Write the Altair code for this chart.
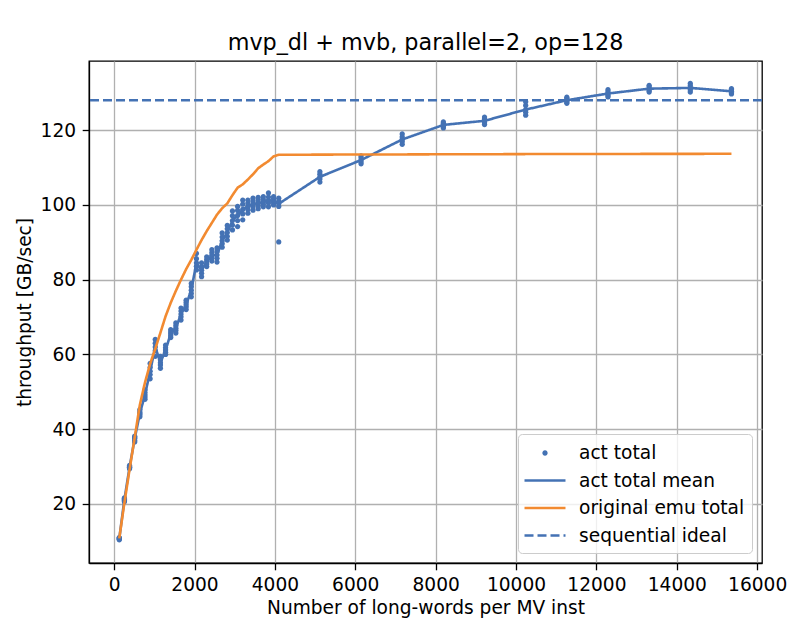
import altair as alt
import pandas as pd

TITLE = "mvp_dl + mvb, parallel=2, op=128"
X_TITLE = "Number of long-words per MV inst"
Y_TITLE = "throughput [GB/sec]"
SERIES = ["act total", "act total mean", "original emu total", "sequential ideal"]

BLUE = "#4472b4"
ORANGE = "#f28a30"

X_VALUES = [128, 256, 384, 512, 640, 768, 896, 1024, 1152, 1280, 1408, 1536,
            1664, 1792, 1920, 2048, 2176, 2304, 2432, 2560, 2688, 2816, 2944,
            3072, 3200, 3328, 3456, 3584, 3712, 3840, 3968, 4096,
            5120, 6144, 7168, 8192, 9216, 10240, 11264, 12288, 13312, 14336, 15360]

ACT_POINTS = [
    [10.4, 10.6, 10.7, 10.9, 11.0],
    [20.6, 20.9, 21.2, 21.4, 21.6],
    [29.4, 29.7, 29.8, 30.0, 30.3],
    [36.6, 37.0, 37.5, 37.8, 38.1],
    [43.3, 43.8, 44.2, 44.6, 45.2],
    [48.0, 48.6, 49.2, 49.8, 50.5],
    [53.5, 54.6, 55.5, 56.5, 57.6],
    [59.5, 61.0, 62.0, 63.0, 64.0],
    [56.3, 57.2, 57.8, 58.6, 59.5],
    [60.0, 60.6, 61.2, 61.8, 62.5],
    [64.5, 65.0, 65.5, 66.0, 66.6],
    [65.7, 66.4, 67.0, 67.7, 68.4],
    [69.2, 70.1, 70.8, 71.6, 72.4],
    [72.0, 72.7, 73.3, 73.9, 74.5],
    [75.4, 76.3, 77.2, 78.1, 79.0],
    [82.6, 83.6, 84.5, 85.6, 87.0],
    [80.8, 81.7, 82.5, 83.4, 84.5],
    [83.5, 84.2, 84.8, 85.4, 86.1],
    [85.0, 85.8, 86.5, 87.2, 88.0],
    [84.7, 85.7, 86.6, 87.5, 88.5],
    [88.7, 89.6, 90.4, 91.4, 92.5],
    [90.6, 91.6, 92.6, 93.6, 94.5],
    [93.3, 94.6, 95.8, 97.1, 98.4],
    [94.2, 95.8, 97.2, 98.5, 99.6],
    [96.0, 97.6, 98.8, 100.2, 101.3],
    [97.8, 98.8, 99.6, 100.5, 101.3],
    [98.6, 99.5, 100.2, 101.0, 101.8],
    [99.0, 99.8, 100.5, 101.3, 102.0],
    [99.5, 100.2, 100.8, 101.5, 102.2],
    [99.5, 100.5, 101.2, 102.1, 103.2],
    [100.0, 100.6, 101.1, 101.7, 102.2],
    [90.1, 99.6, 100.4, 101.0, 101.8],
    [106.1, 106.9, 107.5, 108.2, 108.9],
    [111.0, 111.5, 112.0, 112.6, 113.1],
    [116.2, 116.9, 117.5, 118.2, 119.0],
    [120.6, 121.0, 121.4, 121.8, 122.2],
    [121.5, 122.0, 122.5, 123.0, 123.5],
    [124.0, 124.8, 125.5, 126.6, 127.6],
    [127.2, 127.6, 128.0, 128.4, 128.8],
    [128.9, 129.3, 129.8, 130.3, 130.8],
    [130.2, 130.6, 131.1, 131.6, 132.0],
    [130.2, 130.8, 131.3, 131.9, 132.5],
    [129.7, 130.0, 130.4, 130.8, 131.1],
]

ACT_MEAN = [10.7, 21.2, 29.8, 37.5, 44.2, 49.2, 55.5, 62.0, 57.8, 61.2, 65.5, 67.0,
            70.8, 73.3, 77.2, 84.5, 82.5, 84.8, 86.5, 86.6, 90.4, 92.6, 95.8,
            97.2, 98.8, 99.6, 100.2, 100.5, 100.8, 101.2, 101.1, 100.3,
            107.5, 112.0, 117.5, 121.4, 122.5, 125.5, 128.0, 129.8, 131.1, 131.3, 130.4]

EMU_TOTAL = [10.8, 20.3, 29.2, 37.8, 46.5, 52.5, 57.5, 61.5, 65.8, 70.2, 73.8, 77.0,
             80.0, 82.8, 85.3, 88.0, 90.6, 93.0, 95.2, 97.4, 99.1, 100.4, 102.6,
             104.6, 105.5, 106.8, 108.2, 109.8, 110.8, 111.7, 113.0, 113.4,
             113.45, 113.5, 113.5, 113.55, 113.55, 113.6, 113.6, 113.6, 113.65, 113.65, 113.7]

SEQ_IDEAL = 128

X_TICKS = [0, 2000, 4000, 6000, 8000, 10000, 12000, 14000, 16000]
Y_TICKS = [20, 40, 60, 80, 100, 120]
X_DOMAIN = [-625, 16120]
Y_DOMAIN = [4.2, 138.5]

FONT = "DejaVu Sans"
FS = 18.6
LW = 2.6

pts_rows = []
for xv, ys in zip(X_VALUES, ACT_POINTS):
    for yv in ys:
        pts_rows.append({"x": xv, "y": yv, "series": SERIES[0]})
df_pts = pd.DataFrame(pts_rows)

line_rows = []
for xv, yv in zip(X_VALUES, ACT_MEAN):
    line_rows.append({"x": xv, "y": yv, "series": SERIES[1]})
for xv, yv in zip(X_VALUES, EMU_TOTAL):
    line_rows.append({"x": xv, "y": yv, "series": SERIES[2]})
df_lines = pd.DataFrame(line_rows)

df_ideal = pd.DataFrame([{"y": SEQ_IDEAL, "series": SERIES[3]}])

FILL_COLORS = [BLUE, BLUE, ORANGE, BLUE]
STROKE_COLORS = ["rgba(0,0,0,0)", BLUE, ORANGE, BLUE]
# small filled dot and a long horizontal stroke, in unit symbol coordinates
DOT = "M0.26,0A0.26,0.26,0,1,1,-0.26,0A0.26,0.26,0,1,1,0.26,0Z"
LONG_STROKE = "M-2,0H2"
SYM_SIZE = 420

legend = alt.Legend(title=None, orient="bottom-right", offset=10)

fill_scale = alt.Scale(domain=SERIES, range=FILL_COLORS)
stroke_scale = alt.Scale(domain=SERIES, range=STROKE_COLORS)
shape_scale = alt.Scale(domain=SERIES, range=[DOT, LONG_STROKE, LONG_STROKE, LONG_STROKE])
dash_scale = alt.Scale(domain=SERIES, range=[[1, 0], [1, 0], [1, 0], [9, 4]])

xenc = alt.X("x:Q", scale=alt.Scale(domain=X_DOMAIN, nice=False, zero=False),
             axis=alt.Axis(values=X_TICKS, format="d", title=X_TITLE,
                           labelPadding=5.5, titlePadding=5))
yenc = alt.Y("y:Q", scale=alt.Scale(domain=Y_DOMAIN, nice=False, zero=False),
             axis=alt.Axis(values=Y_TICKS, format="d", title=Y_TITLE,
                           labelPadding=6.6, titlePadding=6))

lines = alt.Chart(df_lines).mark_line(strokeWidth=LW).encode(
    x=xenc, y=yenc,
    stroke=alt.Stroke("series:N", scale=stroke_scale, legend=legend),
    strokeDash=alt.StrokeDash("series:N", scale=dash_scale, legend=legend),
)

ideal = alt.Chart(df_ideal).mark_rule(strokeWidth=LW).encode(
    y=alt.Y("y:Q"),
    stroke=alt.Stroke("series:N", scale=stroke_scale, legend=legend),
    strokeDash=alt.StrokeDash("series:N", scale=dash_scale, legend=legend),
)

points = alt.Chart(df_pts).mark_point(filled=True, size=SYM_SIZE, opacity=1).encode(
    x=xenc, y=yenc,
    fill=alt.Fill("series:N", scale=fill_scale, legend=legend),
    shape=alt.Shape("series:N", scale=shape_scale, legend=legend),
)

chart = alt.layer(ideal, points, lines).properties(
    width=673, height=502,
    title=alt.Title(TITLE, font=FONT, fontSize=22.3, fontWeight="normal", color="black",
                    anchor="middle", frame="group", baseline="bottom", offset=8, dy=24),
    autosize=alt.AutoSizeParams(type="none"),
    padding={"left": 81, "top": 53, "right": 27, "bottom": 63},
).configure_view(
    stroke="black", strokeWidth=1.3
).configure_axis(
    grid=True, gridColor="#b0b0b0", gridWidth=1.3,
    domainColor="black", domainWidth=1.3,
    tickColor="black", tickSize=6.8, tickWidth=1.3,
    labelFont=FONT, labelFontSize=FS, labelColor="black",
    titleFont=FONT, titleFontSize=FS, titleFontWeight="normal", titleColor="black",
).configure_legend(
    labelFont=FONT, labelFontSize=FS, labelColor="black", labelLimit=400,
    symbolSize=SYM_SIZE, symbolStrokeWidth=LW, symbolOffset=8,
    padding=7, rowPadding=5.5, labelOffset=22,
    strokeColor="#cccccc", fillColor="rgba(255,255,255,0.8)", cornerRadius=4,
)

chart.save("out.html", embed_options={"renderer": "svg", "actions": False})
